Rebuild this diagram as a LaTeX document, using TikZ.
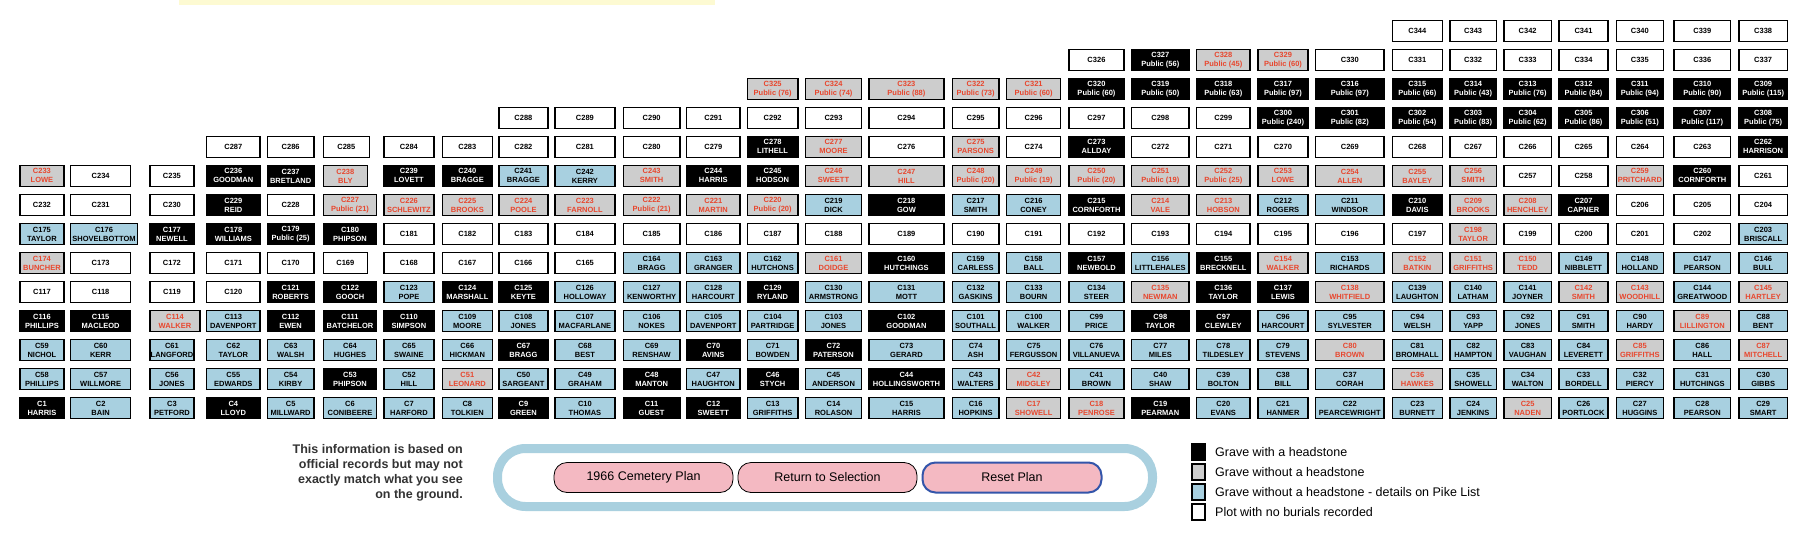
\documentclass[tikz,border=0pt]{standalone}
\usepackage{fontspec}
\setmainfont{Liberation Sans}
\definecolor{cgray}{HTML}{CDCDCD}
\definecolor{cred}{HTML}{E8472E}
\definecolor{cblue}{HTML}{A8D0E0}
\definecolor{cband}{HTML}{A9D0DF}
\definecolor{cpink}{HTML}{F4B9C2}
\definecolor{cbtnblue}{HTML}{3355AA}
\definecolor{cyel}{HTML}{FDFAD2}
\definecolor{cnote}{HTML}{333333}
% column left / right edges
\makeatletter
\def\setcol#1#2#3{\expandafter\def\csname cl#1\endcsname{#2}\expandafter\def\csname cr#1\endcsname{#3}}
\makeatother
\setcol{1}{19.3}{63.3}
\setcol{2}{70}{130}
\setcol{3}{149.3}{193.3}
\setcol{4}{206}{259.3}
\setcol{5}{266.7}{313.3}
\setcol{6}{322.7}{376}
\setcol{7}{383.3}{433.3}
\setcol{8}{441.7}{491.7}
\setcol{9}{498.3}{547.3}
\setcol{10}{554.3}{614.3}
\setcol{11}{622.7}{679.3}
\setcol{12}{686}{739.3}
\setcol{13}{746.7}{797.3}
\setcol{14}{805}{860.7}
\setcol{15}{868.3}{943.3}
\setcol{16}{951.7}{998.3}
\setcol{17}{1006}{1060}
\setcol{18}{1068.3}{1123.3}
\setcol{19}{1131}{1188.3}
\setcol{20}{1196}{1249.3}
\setcol{21}{1257.3}{1307.3}
\setcol{22}{1315}{1383.3}
\setcol{23}{1391.7}{1441.7}
\setcol{24}{1449.3}{1495.7}
\setcol{25}{1503.3}{1550.7}
\setcol{26}{1558.3}{1607.3}
\setcol{27}{1615.7}{1662.7}
\setcol{28}{1673.3}{1730}
\setcol{29}{1738.3}{1786.7}
\newcommand\plotcell[6][]{%
  \pgfmathsetmacro\plotL{\csname cl#2\endcsname}%
  \ifx\relax#1\relax\pgfmathsetmacro\plotW{\csname cr#2\endcsname-\plotL}\else\def\plotW{#1}\fi
  \pgfmathsetmacro\plotT{19.5+29.05*#3}%
  \node[plotbox,#4,minimum width=\plotW pt,anchor=north west] (C#5) at (\plotL,\plotT) {C#5\\#6};}
\newcommand\plotempty[4][]{%
  \pgfmathsetmacro\plotL{\csname cl#2\endcsname}%
  \ifx\relax#1\relax\pgfmathsetmacro\plotW{\csname cr#2\endcsname-\plotL}\else\def\plotW{#1}\fi
  \pgfmathsetmacro\plotT{19.5+29.05*#3}%
  \node[plotbox,gE,minimum width=\plotW pt,anchor=north west] (C#4) at (\plotL,\plotT) {C#4};}
\begin{document}
\begin{tikzpicture}[x=1pt,y=-1pt,
  plotbox/.style={draw=black,line width=1.3pt,inner sep=0pt,minimum height=21pt,align=center,
    font=\fontsize{7.5}{9}\selectfont\bfseries},
  gH/.style={fill=black,text=white},
  gN/.style={fill=cgray,text=cred},
  gB/.style={fill=cblue,text=black},
  gE/.style={fill=white,text=black},
  btn/.style={draw=black,line width=0.8pt,fill=cpink,rounded corners=13pt,minimum width=179pt,
    minimum height=30pt,inner sep=0pt,font=\fontsize{12.5}{14}\selectfont},
  legbox/.style={draw=black,line width=1.3pt,minimum width=13pt,minimum height=16pt,inner sep=0pt},
  legtext/.style={anchor=west,inner sep=0pt,font=\fontsize{12.5}{14}\selectfont}]
\useasboundingbox[fill=white] (0,0) rectangle (1808,533);
\fill[cyel] (179,0) rectangle (715,4.5);
% row 0
\foreach \c in {23,...,29}{\pgfmathtruncatemacro\n{367-\c}\plotempty{\c}{0}{\n}}
% row 1
\plotempty{18}{1}{326}
\plotcell{19}{1}{gH}{327}{Public (56)}
\plotcell{20}{1}{gN}{328}{Public (45)}
\plotcell{21}{1}{gN}{329}{Public (60)}
\foreach \c in {22,...,29}{\pgfmathtruncatemacro\n{308+\c}\plotempty{\c}{1}{\n}}
% row 2
\plotcell{13}{2}{gN}{325}{Public (76)}
\plotcell{14}{2}{gN}{324}{Public (74)}
\plotcell{15}{2}{gN}{323}{Public (88)}
\plotcell{16}{2}{gN}{322}{Public (73)}
\plotcell{17}{2}{gN}{321}{Public (60)}
\plotcell{18}{2}{gH}{320}{Public (60)}
\plotcell{19}{2}{gH}{319}{Public (50)}
\plotcell{20}{2}{gH}{318}{Public (63)}
\plotcell{21}{2}{gH}{317}{Public (97)}
\plotcell{22}{2}{gH}{316}{Public (97)}
\plotcell{23}{2}{gH}{315}{Public (66)}
\plotcell{24}{2}{gH}{314}{Public (43)}
\plotcell{25}{2}{gH}{313}{Public (76)}
\plotcell{26}{2}{gH}{312}{Public (84)}
\plotcell{27}{2}{gH}{311}{Public (94)}
\plotcell{28}{2}{gH}{310}{Public (90)}
\plotcell{29}{2}{gH}{309}{Public (115)}
% row 3
\foreach \c in {9,...,20}{\pgfmathtruncatemacro\n{279+\c}\plotempty{\c}{3}{\n}}
\plotcell{21}{3}{gH}{300}{Public (240)}
\plotcell{22}{3}{gH}{301}{Public (82)}
\plotcell{23}{3}{gH}{302}{Public (54)}
\plotcell{24}{3}{gH}{303}{Public (83)}
\plotcell{25}{3}{gH}{304}{Public (62)}
\plotcell{26}{3}{gH}{305}{Public (86)}
\plotcell{27}{3}{gH}{306}{Public (51)}
\plotcell{28}{3}{gH}{307}{Public (117)}
\plotcell{29}{3}{gH}{308}{Public (75)}
% row 4
\plotempty{4}{4}{287}
\plotempty{5}{4}{286}
\plotempty[46]{6}{4}{285}
\foreach \c in {7,...,12}{\pgfmathtruncatemacro\n{291-\c}\plotempty{\c}{4}{\n}}
\plotcell{13}{4}{gH}{278}{LITHELL}
\plotcell{14}{4}{gN}{277}{MOORE}
\plotempty{15}{4}{276}
\plotcell{16}{4}{gN}{275}{PARSONS}
\plotempty{17}{4}{274}
\plotcell{18}{4}{gH}{273}{ALLDAY}
\foreach \c in {19,...,28}{\pgfmathtruncatemacro\n{291-\c}\plotempty{\c}{4}{\n}}
\plotcell{29}{4}{gH}{262}{HARRISON}
% row 5
\plotcell{1}{5}{gN}{233}{LOWE}
\plotempty{2}{5}{234}
\plotempty{3}{5}{235}
\plotcell{4}{5}{gH}{236}{GOODMAN}
\plotcell{5}{5}{gH}{237}{BRETLAND}
\plotcell[44]{6}{5}{gN}{238}{BLY}
\plotcell{7}{5}{gH}{239}{LOVETT}
\plotcell{8}{5}{gH}{240}{BRAGGE}
\plotcell{9}{5}{gB}{241}{BRAGGE}
\plotcell{10}{5}{gB}{242}{KERRY}
\plotcell{11}{5}{gN}{243}{SMITH}
\plotcell{12}{5}{gH}{244}{HARRIS}
\plotcell{13}{5}{gH}{245}{HODSON}
\plotcell{14}{5}{gN}{246}{SWEETT}
\plotcell{15}{5}{gN}{247}{HILL}
\plotcell{16}{5}{gN}{248}{Public (20)}
\plotcell{17}{5}{gN}{249}{Public (19)}
\plotcell{18}{5}{gN}{250}{Public (20)}
\plotcell{19}{5}{gN}{251}{Public (19)}
\plotcell{20}{5}{gN}{252}{Public (25)}
\plotcell{21}{5}{gN}{253}{LOWE}
\plotcell{22}{5}{gN}{254}{ALLEN}
\plotcell{23}{5}{gN}{255}{BAYLEY}
\plotcell{24}{5}{gN}{256}{SMITH}
\plotempty{25}{5}{257}
\plotempty{26}{5}{258}
\plotcell{27}{5}{gN}{259}{PRITCHARD}
\plotcell{28}{5}{gH}{260}{CORNFORTH}
\plotempty{29}{5}{261}
% row 6
\plotempty{1}{6}{232}
\plotempty{2}{6}{231}
\plotempty{3}{6}{230}
\plotcell{4}{6}{gH}{229}{REID}
\plotempty{5}{6}{228}
\plotcell{6}{6}{gN}{227}{Public (21)}
\plotcell{7}{6}{gN}{226}{SCHLEWITZ}
\plotcell{8}{6}{gN}{225}{BROOKS}
\plotcell{9}{6}{gN}{224}{POOLE}
\plotcell{10}{6}{gN}{223}{FARNOLL}
\plotcell{11}{6}{gN}{222}{Public (21)}
\plotcell{12}{6}{gN}{221}{MARTIN}
\plotcell{13}{6}{gN}{220}{Public (20)}
\plotcell{14}{6}{gB}{219}{DICK}
\plotcell{15}{6}{gH}{218}{GOW}
\plotcell{16}{6}{gB}{217}{SMITH}
\plotcell{17}{6}{gB}{216}{CONEY}
\plotcell{18}{6}{gH}{215}{CORNFORTH}
\plotcell{19}{6}{gN}{214}{VALE}
\plotcell{20}{6}{gN}{213}{HOBSON}
\plotcell{21}{6}{gB}{212}{ROGERS}
\plotcell{22}{6}{gB}{211}{WINDSOR}
\plotcell{23}{6}{gH}{210}{DAVIS}
\plotcell{24}{6}{gN}{209}{BROOKS}
\plotcell{25}{6}{gN}{208}{HENCHLEY}
\plotcell{26}{6}{gH}{207}{CAPNER}
\plotempty{27}{6}{206}
\plotempty{28}{6}{205}
\plotempty{29}{6}{204}
% row 7
\plotcell{1}{7}{gB}{175}{TAYLOR}
\plotcell[66.7]{2}{7}{gB}{176}{SHOVELBOTTOM}
\plotcell{3}{7}{gH}{177}{NEWELL}
\plotcell{4}{7}{gH}{178}{WILLIAMS}
\plotcell{5}{7}{gH}{179}{Public (25)}
\plotcell{6}{7}{gH}{180}{PHIPSON}
\foreach \c in {7,...,23}{\pgfmathtruncatemacro\n{174+\c}\plotempty{\c}{7}{\n}}
\plotcell{24}{7}{gN}{198}{TAYLOR}
\foreach \c in {25,...,28}{\pgfmathtruncatemacro\n{174+\c}\plotempty{\c}{7}{\n}}
\plotcell{29}{7}{gB}{203}{BRISCALL}
% row 8
\plotcell{1}{8}{gN}{174}{BUNCHER}
\plotempty{2}{8}{173}
\plotempty{3}{8}{172}
\plotempty{4}{8}{171}
\plotempty{5}{8}{170}
\plotempty[44]{6}{8}{169}
\plotempty{7}{8}{168}
\plotempty{8}{8}{167}
\plotempty{9}{8}{166}
\plotempty{10}{8}{165}
\plotcell{11}{8}{gB}{164}{BRAGG}
\plotcell{12}{8}{gB}{163}{GRANGER}
\plotcell{13}{8}{gB}{162}{HUTCHONS}
\plotcell{14}{8}{gN}{161}{DOIDGE}
\plotcell{15}{8}{gH}{160}{HUTCHINGS}
\plotcell{16}{8}{gB}{159}{CARLESS}
\plotcell{17}{8}{gB}{158}{BALL}
\plotcell{18}{8}{gH}{157}{NEWBOLD}
\plotcell{19}{8}{gB}{156}{LITTLEHALES}
\plotcell{20}{8}{gH}{155}{BRECKNELL}
\plotcell{21}{8}{gN}{154}{WALKER}
\plotcell{22}{8}{gB}{153}{RICHARDS}
\plotcell{23}{8}{gN}{152}{BATKIN}
\plotcell{24}{8}{gN}{151}{GRIFFITHS}
\plotcell{25}{8}{gN}{150}{TEDD}
\plotcell{26}{8}{gB}{149}{NIBBLETT}
\plotcell{27}{8}{gB}{148}{HOLLAND}
\plotcell{28}{8}{gB}{147}{PEARSON}
\plotcell{29}{8}{gB}{146}{BULL}
% row 9
\plotempty{1}{9}{117}
\plotempty{2}{9}{118}
\plotempty{3}{9}{119}
\plotempty{4}{9}{120}
\plotcell{5}{9}{gH}{121}{ROBERTS}
\plotcell{6}{9}{gH}{122}{GOOCH}
\plotcell{7}{9}{gB}{123}{POPE}
\plotcell{8}{9}{gH}{124}{MARSHALL}
\plotcell{9}{9}{gH}{125}{KEYTE}
\plotcell{10}{9}{gB}{126}{HOLLOWAY}
\plotcell{11}{9}{gB}{127}{KENWORTHY}
\plotcell{12}{9}{gB}{128}{HARCOURT}
\plotcell{13}{9}{gH}{129}{RYLAND}
\plotcell{14}{9}{gB}{130}{ARMSTRONG}
\plotcell{15}{9}{gB}{131}{MOTT}
\plotcell{16}{9}{gB}{132}{GASKINS}
\plotcell{17}{9}{gB}{133}{BOURN}
\plotcell{18}{9}{gB}{134}{STEER}
\plotcell{19}{9}{gN}{135}{NEWMAN}
\plotcell{20}{9}{gH}{136}{TAYLOR}
\plotcell{21}{9}{gH}{137}{LEWIS}
\plotcell{22}{9}{gN}{138}{WHITFIELD}
\plotcell{23}{9}{gB}{139}{LAUGHTON}
\plotcell{24}{9}{gB}{140}{LATHAM}
\plotcell{25}{9}{gB}{141}{JOYNER}
\plotcell{26}{9}{gN}{142}{SMITH}
\plotcell{27}{9}{gN}{143}{WOODHILL}
\plotcell{28}{9}{gB}{144}{GREATWOOD}
\plotcell{29}{9}{gN}{145}{HARTLEY}
% row 10
\plotcell{1}{10}{gH}{116}{PHILLIPS}
\plotcell{2}{10}{gH}{115}{MACLEOD}
\plotcell[50]{3}{10}{gN}{114}{WALKER}
\plotcell{4}{10}{gB}{113}{DAVENPORT}
\plotcell{5}{10}{gH}{112}{EWEN}
\plotcell{6}{10}{gH}{111}{BATCHELOR}
\plotcell{7}{10}{gH}{110}{SIMPSON}
\plotcell{8}{10}{gB}{109}{MOORE}
\plotcell{9}{10}{gB}{108}{JONES}
\plotcell{10}{10}{gB}{107}{MACFARLANE}
\plotcell{11}{10}{gB}{106}{NOKES}
\plotcell{12}{10}{gB}{105}{DAVENPORT}
\plotcell{13}{10}{gB}{104}{PARTRIDGE}
\plotcell{14}{10}{gB}{103}{JONES}
\plotcell{15}{10}{gH}{102}{GOODMAN}
\plotcell{16}{10}{gB}{101}{SOUTHALL}
\plotcell{17}{10}{gB}{100}{WALKER}
\plotcell{18}{10}{gB}{99}{PRICE}
\plotcell{19}{10}{gH}{98}{TAYLOR}
\plotcell{20}{10}{gH}{97}{CLEWLEY}
\plotcell{21}{10}{gB}{96}{HARCOURT}
\plotcell{22}{10}{gB}{95}{SYLVESTER}
\plotcell{23}{10}{gB}{94}{WELSH}
\plotcell{24}{10}{gB}{93}{YAPP}
\plotcell{25}{10}{gB}{92}{JONES}
\plotcell{26}{10}{gB}{91}{SMITH}
\plotcell{27}{10}{gB}{90}{HARDY}
\plotcell{28}{10}{gN}{89}{LILLINGTON}
\plotcell{29}{10}{gB}{88}{BENT}
% row 11
\plotcell{1}{11}{gB}{59}{NICHOL}
\plotcell{2}{11}{gB}{60}{KERR}
\plotcell{3}{11}{gB}{61}{LANGFORD}
\plotcell{4}{11}{gB}{62}{TAYLOR}
\plotcell{5}{11}{gB}{63}{WALSH}
\plotcell{6}{11}{gB}{64}{HUGHES}
\plotcell{7}{11}{gB}{65}{SWAINE}
\plotcell{8}{11}{gB}{66}{HICKMAN}
\plotcell{9}{11}{gH}{67}{BRAGG}
\plotcell{10}{11}{gB}{68}{BEST}
\plotcell{11}{11}{gB}{69}{RENSHAW}
\plotcell{12}{11}{gH}{70}{AVINS}
\plotcell{13}{11}{gB}{71}{BOWDEN}
\plotcell{14}{11}{gH}{72}{PATERSON}
\plotcell{15}{11}{gB}{73}{GERARD}
\plotcell{16}{11}{gB}{74}{ASH}
\plotcell{17}{11}{gB}{75}{FERGUSSON}
\plotcell{18}{11}{gB}{76}{VILLANUEVA}
\plotcell{19}{11}{gB}{77}{MILES}
\plotcell{20}{11}{gB}{78}{TILDESLEY}
\plotcell{21}{11}{gB}{79}{STEVENS}
\plotcell{22}{11}{gN}{80}{BROWN}
\plotcell{23}{11}{gB}{81}{BROMHALL}
\plotcell{24}{11}{gB}{82}{HAMPTON}
\plotcell{25}{11}{gB}{83}{VAUGHAN}
\plotcell{26}{11}{gB}{84}{LEVERETT}
\plotcell{27}{11}{gN}{85}{GRIFFITHS}
\plotcell{28}{11}{gB}{86}{HALL}
\plotcell{29}{11}{gN}{87}{MITCHELL}
% row 12
\plotcell{1}{12}{gB}{58}{PHILLIPS}
\plotcell{2}{12}{gB}{57}{WILLMORE}
\plotcell{3}{12}{gB}{56}{JONES}
\plotcell{4}{12}{gB}{55}{EDWARDS}
\plotcell{5}{12}{gB}{54}{KIRBY}
\plotcell{6}{12}{gH}{53}{PHIPSON}
\plotcell{7}{12}{gB}{52}{HILL}
\plotcell{8}{12}{gN}{51}{LEONARD}
\plotcell{9}{12}{gB}{50}{SARGEANT}
\plotcell{10}{12}{gB}{49}{GRAHAM}
\plotcell{11}{12}{gH}{48}{MANTON}
\plotcell{12}{12}{gB}{47}{HAUGHTON}
\plotcell{13}{12}{gH}{46}{STYCH}
\plotcell{14}{12}{gB}{45}{ANDERSON}
\plotcell{15}{12}{gH}{44}{HOLLINGSWORTH}
\plotcell{16}{12}{gB}{43}{WALTERS}
\plotcell{17}{12}{gN}{42}{MIDGLEY}
\plotcell{18}{12}{gB}{41}{BROWN}
\plotcell{19}{12}{gB}{40}{SHAW}
\plotcell{20}{12}{gB}{39}{BOLTON}
\plotcell{21}{12}{gB}{38}{BILL}
\plotcell{22}{12}{gB}{37}{CORAH}
\plotcell{23}{12}{gN}{36}{HAWKES}
\plotcell{24}{12}{gB}{35}{SHOWELL}
\plotcell{25}{12}{gB}{34}{WALTON}
\plotcell{26}{12}{gB}{33}{BORDELL}
\plotcell{27}{12}{gB}{32}{PIERCY}
\plotcell{28}{12}{gB}{31}{HUTCHINGS}
\plotcell{29}{12}{gB}{30}{GIBBS}
% row 13
\plotcell{1}{13}{gH}{1}{HARRIS}
\plotcell{2}{13}{gB}{2}{BAIN}
\plotcell{3}{13}{gB}{3}{PETFORD}
\plotcell{4}{13}{gH}{4}{LLOYD}
\plotcell{5}{13}{gB}{5}{MILLWARD}
\plotcell{6}{13}{gB}{6}{CONIBEERE}
\plotcell{7}{13}{gB}{7}{HARFORD}
\plotcell{8}{13}{gB}{8}{TOLKIEN}
\plotcell{9}{13}{gH}{9}{GREEN}
\plotcell{10}{13}{gB}{10}{THOMAS}
\plotcell{11}{13}{gH}{11}{GUEST}
\plotcell{12}{13}{gH}{12}{SWEETT}
\plotcell{13}{13}{gB}{13}{GRIFFITHS}
\plotcell{14}{13}{gB}{14}{ROLASON}
\plotcell{15}{13}{gB}{15}{HARRIS}
\plotcell{16}{13}{gB}{16}{HOPKINS}
\plotcell{17}{13}{gN}{17}{SHOWELL}
\plotcell{18}{13}{gN}{18}{PENROSE}
\plotcell{19}{13}{gH}{19}{PEARMAN}
\plotcell{20}{13}{gB}{20}{EVANS}
\plotcell{21}{13}{gB}{21}{HANMER}
\plotcell{22}{13}{gB}{22}{PEARCEWRIGHT}
\plotcell{23}{13}{gB}{23}{BURNETT}
\plotcell{24}{13}{gB}{24}{JENKINS}
\plotcell{25}{13}{gN}{25}{NADEN}
\plotcell{26}{13}{gB}{26}{PORTLOCK}
\plotcell{27}{13}{gB}{27}{HUGGINS}
\plotcell{28}{13}{gB}{28}{PEARSON}
\plotcell{29}{13}{gB}{29}{SMART}
% disclaimer
\node[anchor=north east,align=right,inner sep=0pt,text=cnote,
  font=\fontsize{12.5}{15}\selectfont\bfseries] (note) at (463,444)
  {This information is based on\\official records but may not\\exactly match what you see\\on the ground.};
% button frame
\node[draw=cband,line width=9pt,rounded corners=28pt,minimum width=655pt,minimum height=58pt,inner sep=0pt]
  (frame) at (825,477.5) {};
\node[btn] (plan) at (643.5,477.5) {1966 Cemetery Plan};
\node[btn] (ret) at (827.5,477.5) {Return to Selection};
\node[btn,draw=cbtnblue,line width=2pt] (reset) at (1012,477.5) {Reset Plan};
% legend
\node[legbox,fill=black] (k1) at (1198.5,452) {};
\node[legbox,fill=cgray] (k2) at (1198.5,472) {};
\node[legbox,fill=cblue] (k3) at (1198.5,492) {};
\node[legbox,fill=white] (k4) at (1198.5,512) {};
\node[legtext] (t1) at (1215,452) {Grave with a headstone};
\node[legtext] (t2) at (1215,472) {Grave without a headstone};
\node[legtext] (t3) at (1215,492) {Grave without a headstone - details on Pike List};
\node[legtext] (t4) at (1215,512) {Plot with no burials recorded};
\end{tikzpicture}
\end{document}
